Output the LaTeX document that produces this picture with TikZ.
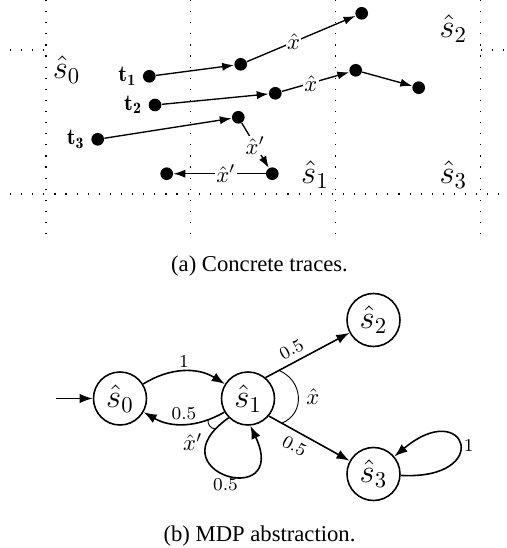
\documentclass[tikz,border=0pt]{standalone}
\usepackage{fontspec}
\newfontfamily\capfont{Liberation Serif}
\usetikzlibrary{arrows.meta}

\begin{document}
\begin{tikzpicture}[x=0.4415pt, y=0.4415pt, >={Latex[length=5.8pt, width=4.2pt]},
    gridline/.style={line width=0.5pt, dash pattern=on 0.5pt off 4.4pt},
    dot/.style={circle, fill, inner sep=0pt, minimum size=5.6pt},
    run/.style={->, line width=0.6pt, >={Latex[length=5.2pt, width=3.6pt]}},
    tname/.style={font=\normalsize, inner sep=2.5pt},
    region/.style={font=\Large},
    act/.style={fill=white, inner sep=0.6pt},
    st/.style={draw, circle, line width=0.7pt, minimum size=23.4pt, inner sep=0pt, font=\Large},
    tr/.style={->, line width=0.7pt},
    prob/.style={font=\footnotesize, inner sep=1.5pt},
    caption/.style={font=\capfont}]
  \useasboundingbox (0,0) rectangle (507,548);
  % (a) concrete traces
  \foreach \x in {46,190.7,335.7,480.7}
    \draw[gridline] (\x,548) -- (\x,310);
  \draw[gridline] (10,354) -- (507,354);
  \draw[gridline] (10,498) -- (46,498);
  \draw[gridline] (480.7,498) -- (507,498);
  \node[region] (r0) at (66.7,478) {$\hat{s}_0$};
  \node[region] (r1) at (315,373) {$\hat{s}_1$};
  \node[region] (r2) at (453.3,519.7) {$\hat{s}_2$};
  \node[region] (r3) at (453.3,373) {$\hat{s}_3$};
  \node[dot, label={[tname]left:$\mathbf{t_1}$}] (a1) at (149.3,471.7) {};
  \node[dot] (a2) at (240.7,483.7) {};
  \node[dot] (a3) at (361.7,534.7) {};
  \node[dot, label={[tname]left:$\mathbf{t_2}$}] (b1) at (155,443) {};
  \node[dot] (b2) at (275.3,454.7) {};
  \node[dot] (b3) at (355.7,477.7) {};
  \node[dot] (b4) at (418.7,460.3) {};
  \node[dot, label={[tname]left:$\mathbf{t_3}$}] (c1) at (97.7,408.7) {};
  \node[dot] (c2) at (238.3,430.7) {};
  \node[dot] (c3) at (272.3,374.3) {};
  \node[dot] (c4) at (166.7,374.3) {};
  \draw[run] (a1) -- (a2);
  \draw[run] (a2) -- node[act, pos=0.43] {$\hat{x}$} (a3);
  \draw[run] (b1) -- (b2);
  \draw[run] (b2) -- node[act, pos=0.43] {$\hat{x}$} (b3);
  \draw[run] (b3) -- (b4);
  \draw[run] (c1) -- (c2);
  \draw[run] (c2) -- node[act, pos=0.5] {$\hat{x}'$} (c3);
  \draw[run] (c3) -- node[act, pos=0.43] {$\hat{x}'$} (c4);
  \node[caption] (capa) at (259.5,282) {(a) Concrete traces.};
  % (b) MDP abstraction
  \node[st] (s0) at (120,149.5) {$\hat{s}_0$};
  \node[st] (s1) at (248,149.5) {$\hat{s}_1$};
  \node[st] (s2) at (373.5,228) {$\hat{s}_2$};
  \node[st] (s3) at (373.5,74) {$\hat{s}_3$};
  \coordinate (init) at (56,149.5);
  \draw[tr] (init) -- (s0);
  \draw[tr] (s0) to[bend left=32] node[prob, above] {1} (s1);
  \draw[tr] (s1) to[bend left=30] coordinate[pos=0.2] (xpa) node[prob, above] {0.5} (s0);
  \draw[tr] (s1.225) to[out=215, in=-65, looseness=10.5] coordinate[pos=0.07] (xpb) node[prob, below] {0.5} (s1.-85);
  \draw (xpa) to[bend right=50] node[below left, inner sep=3pt] {$\hat{x}'$} (xpb);
  \draw[tr] (s1.50) -- coordinate[pos=0.16] (xa) node[prob, sloped, above, pos=0.38, inner sep=2.5pt] {0.5} (s2);
  \draw[tr] (s1.-40) -- coordinate[pos=0.16] (xb) node[prob, sloped, below, pos=0.4, inner sep=3pt] {0.5} (s3);
  \draw (xa) .. controls +(24,-10) and +(24,10) .. node[right] {$\hat{x}$} (xb);
  \draw[tr] (s3) to[out=-3, in=40, looseness=12] node[prob, right] {1} (s3);
  \node[caption] (capb) at (259.5,12) {(b) MDP abstraction.};
\end{tikzpicture}
\end{document}
